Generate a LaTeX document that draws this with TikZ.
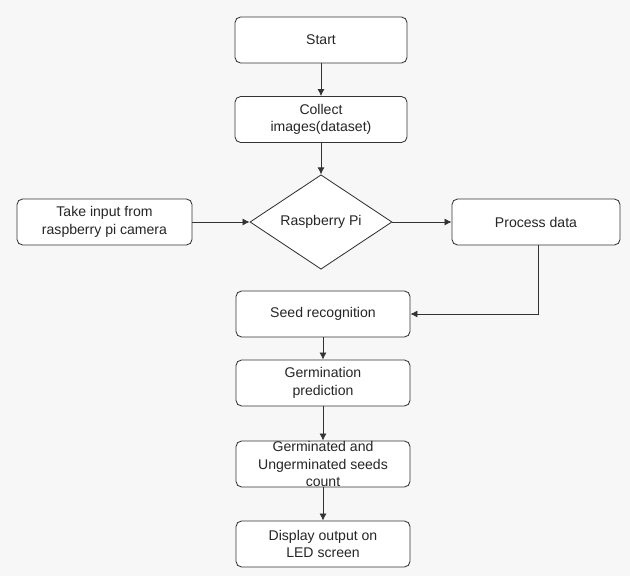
\documentclass[tikz,border=0pt]{standalone}
\usepackage{fontspec}
\setmainfont{Liberation Sans}
\usetikzlibrary{arrows.meta}
\usetikzlibrary{shapes.geometric}

\begin{document}
\begin{tikzpicture}[x=0.025cm, y=-0.025cm, >={Latex[length=5pt, width=5pt]}]

	% background and picture size
	\fill[black!3!white] (0,0) rectangle (630,576);
	\useasboundingbox (0,0) rectangle (630,576);
	% line colour scheme
	\def\options{black!80!white}
	\tikzset{
		box/.style={draw=\options, line width=0.6pt, rounded corners=4pt, fill=white, align=center, inner sep=1pt,
			font=\fontsize{10}{12.5}\selectfont, text=black!85!white, minimum height=1.15cm},
		decide/.style={draw=\options, line width=0.6pt, diamond, fill=white, inner sep=0pt,
			font=\fontsize{10}{12.5}\selectfont, text=black!85!white, minimum width=3.55cm, minimum height=2.25cm},
		link/.style={->, draw=\options, line width=0.6pt}
	}

	% main column
	\node[box, minimum width=4.3cm] (start) at (321,40) {Start};
	\node[box, minimum width=4.3cm] (collect) at (321,119.5) {Collect\\images(dataset)};
	\node[decide] (pi) at (321,222) {Raspberry Pi};

	% side boxes
	\node[box, minimum width=4.375cm] (camera) at (104.5,222) {Take input from\\raspberry pi camera};
	\node[box, minimum width=4.2cm] (process) at (536,222) {Process data};

	% lower column
	\node[box, minimum width=4.35cm] (seed) at (323,314) {Seed recognition};
	\node[box, minimum width=4.35cm] (predict) at (323,383) {Germination\\prediction};
	\node[box, minimum width=4.35cm, inner ysep=-2pt] (count) at (323,464) {Germinated and\\Ungerminated seeds\\count};
	\node[box, minimum width=4.35cm] (display) at (323,544) {Display output on\\LED screen};

	% connections
	\draw[link] (start) -- (collect);
	\draw[link] (collect) -- (pi);
	\draw[link] (camera) -- (pi);
	\draw[link] (pi) -- (process);
	\draw[link] (process.south) ++(2,0) |- (seed.east);
	\draw[link] (seed) -- (predict);
	\draw[link] (predict) -- (count);
	\draw[link] (count) -- (display);

\end{tikzpicture}
\end{document}
